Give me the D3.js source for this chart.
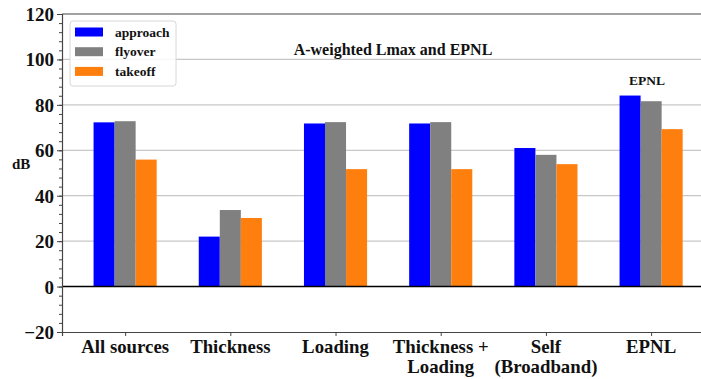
<!DOCTYPE html>
<html>
<head>
<meta charset="utf-8">
<script src="https://cdn.jsdelivr.net/npm/d3@7"></script>
<style>
  body { margin: 0; background: #fff; }
</style>
</head>
<body>
<svg id="chart"></svg>
<script>
var screen = {width: 701, height: 379}
var margin = {top: 14, left: 62, bottom: 47}
var serif = "'Liberation Serif', 'Times New Roman', Times, 'DejaVu Serif', serif"

// data
var categories = [["All sources"], ["Thickness"], ["Loading"], ["Thickness +", "Loading"], ["Self", "(Broadband)"], ["EPNL"]]
var seriesNames = ["approach", "flyover", "takeoff"]
var seriesColors = ["#0000ff", "#808080", "#ff7f0e"]
var approach = [72.3, 22.0, 71.8, 71.8, 61.0, 84.1]
var flyover  = [72.8, 33.7, 72.4, 72.4, 58.0, 81.6]
var takeoff  = [55.9, 30.2, 51.7, 51.7, 53.9, 69.3]
var yTicks = [-20, 0, 20, 40, 60, 80, 100, 120]

var series = [approach, flyover, takeoff]

var svg = d3.select("#chart")
    .attr("width", screen.width)
    .attr("height", screen.height)

var plotBottom = screen.height - margin.bottom
// axes run past the right edge of the picture, like the original crop
var step = 105.2
var xScale = d3.scaleLinear()
    .domain([-0.6, 5.6])
    .range([margin.left, margin.left + 6.2 * step])
var yScale = d3.scaleLinear()
    .domain([-20, 120])
    .range([plotBottom, margin.top])
var barW = 0.2

var label = function(sel, size)
{
    return sel.style("font-family", serif).style("font-weight", "bold")
        .style("font-size", size + "px").attr("fill", "#111")
}

// grid
svg.append("g").selectAll("line")
    .data(yTicks.filter(function(d){ return d != 0 && d != -20 && d != 120 }))
    .enter().append("line")
    .attr("x1", margin.left).attr("x2", screen.width)
    .attr("y1", function(d){ return yScale(d) }).attr("y2", function(d){ return yScale(d) })
    .attr("stroke", "#c8c8c8").attr("stroke-width", 1.2)

// bars
series.forEach(function(vals, s)
{
    svg.append("g").selectAll("rect")
        .data(vals)
        .enter().append("rect")
        .attr("x", function(d, i){ return xScale(i + (s - 1) * barW - barW / 2) })
        .attr("width", xScale(barW) - xScale(0))
        .attr("y", function(d){ return yScale(d) })
        .attr("height", function(d){ return yScale(0) - yScale(d) })
        .attr("fill", seriesColors[s])
})

// zero line
svg.append("line")
    .attr("x1", margin.left).attr("x2", screen.width)
    .attr("y1", yScale(0)).attr("y2", yScale(0))
    .attr("stroke", "#000").attr("stroke-width", 1.5)

// y axis with minor ticks
var yMinor = d3.axisLeft(yScale).tickValues(d3.range(-20, 121, 4)).tickSize(3).tickFormat("")
svg.append("g").attr("transform", "translate(" + margin.left + ",0)").call(yMinor)
    .call(function(g){ g.select(".domain").remove() })
    .selectAll("line").attr("stroke", "#444")
var yAxis = d3.axisLeft(yScale).tickValues(yTicks).tickSize(5).tickPadding(3)
    .tickFormat(function(d){ return d < 0 ? "\u2212" + Math.abs(d) : d })
var yg = svg.append("g").attr("transform", "translate(" + margin.left + ",0)").call(yAxis)
yg.select(".domain").attr("stroke", "#444").attr("stroke-width", 1.2)
yg.selectAll("line").attr("stroke", "#444")
label(yg.selectAll("text"), 19).attr("dy", "0.34em")

// x axis at bottom
var xAxis = d3.axisBottom(xScale).tickValues(d3.range(categories.length)).tickSize(4).tickFormat("")
var xg = svg.append("g").attr("transform", "translate(0," + plotBottom + ")").call(xAxis)
xg.select(".domain").attr("stroke", "#444").attr("stroke-width", 1.2)
xg.selectAll("line").attr("stroke", "#444")
categories.forEach(function(lines, i)
{
    var t = label(svg.append("text"), 18.8)
        .attr("text-anchor", "middle")
        .attr("x", xScale(i))
        .attr("y", plotBottom + 21)
    lines.forEach(function(l, k)
    {
        t.append("tspan").attr("x", xScale(i)).attr("dy", k == 0 ? 0 : 20).text(l)
    })
})

// top spine
svg.append("line")
    .attr("x1", margin.left).attr("x2", screen.width)
    .attr("y1", margin.top).attr("y2", margin.top)
    .attr("stroke", "#444").attr("stroke-width", 1.2)

// labels
label(svg.append("text"), 15).attr("x", 12).attr("y", 169).text("dB")
label(svg.append("text"), 16).attr("x", 393).attr("y", 55).attr("text-anchor", "middle")
    .text("A-weighted Lmax and EPNL")
label(svg.append("text"), 13.5).attr("x", xScale(5) - 4).attr("y", 85).attr("text-anchor", "middle")
    .text("EPNL")

// legend
var legend = svg.append("g").attr("transform", "translate(70,21)")
legend.append("rect")
    .attr("width", 106).attr("height", 65).attr("rx", 3)
    .attr("fill", "#fff").attr("fill-opacity", 0.85)
    .attr("stroke", "#d8d8d8")
seriesNames.forEach(function(n, s)
{
    legend.append("rect")
        .attr("x", 5).attr("y", 6.5 + s * 19.7)
        .attr("width", 28).attr("height", 9)
        .attr("fill", seriesColors[s])
    label(legend.append("text"), 13.5)
        .attr("x", 45).attr("y", 15.5 + s * 19.7)
        .text(n)
})
</script>
</body>
</html>
